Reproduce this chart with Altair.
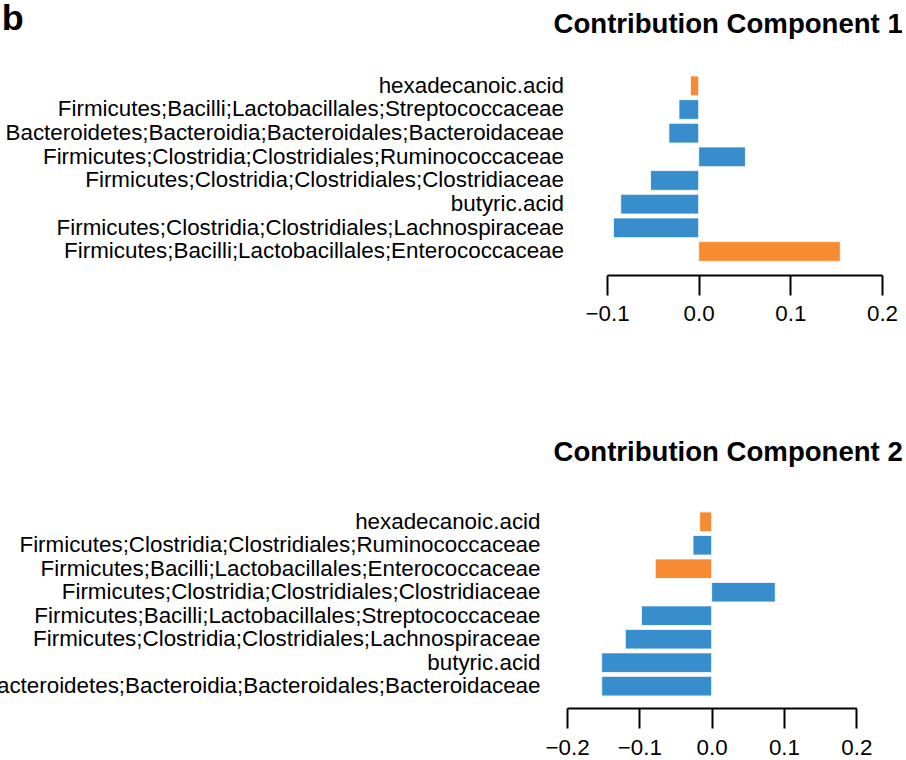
import altair as alt
import pandas as pd

# ---------------- data ----------------
features_c1 = [
    "hexadecanoic.acid",
    "Firmicutes;Bacilli;Lactobacillales;Streptococcaceae",
    "Bacteroidetes;Bacteroidia;Bacteroidales;Bacteroidaceae",
    "Firmicutes;Clostridia;Clostridiales;Ruminococcaceae",
    "Firmicutes;Clostridia;Clostridiales;Clostridiaceae",
    "butyric.acid",
    "Firmicutes;Clostridia;Clostridiales;Lachnospiraceae",
    "Firmicutes;Bacilli;Lactobacillales;Enterococcaceae",
]
values_c1 = [-0.009, -0.0215, -0.0325, 0.051, -0.0525, -0.085, -0.093, 0.1545]
groups_c1 = ["Group 2", "Group 1", "Group 1", "Group 1", "Group 1", "Group 1", "Group 1", "Group 2"]

features_c2 = [
    "hexadecanoic.acid",
    "Firmicutes;Clostridia;Clostridiales;Ruminococcaceae",
    "Firmicutes;Bacilli;Lactobacillales;Enterococcaceae",
    "Firmicutes;Clostridia;Clostridiales;Clostridiaceae",
    "Firmicutes;Bacilli;Lactobacillales;Streptococcaceae",
    "Firmicutes;Clostridia;Clostridiales;Lachnospiraceae",
    "butyric.acid",
    "Bacteroidetes;Bacteroidia;Bacteroidales;Bacteroidaceae",
]
values_c2 = [-0.0166, -0.0258, -0.078, 0.088, -0.097, -0.1194, -0.1521, -0.152]
groups_c2 = ["Group 2", "Group 1", "Group 2", "Group 1", "Group 1", "Group 1", "Group 1", "Group 1"]

ticks_c1 = [-0.1, 0.0, 0.1, 0.2]
ticks_c2 = [-0.2, -0.1, 0.0, 0.1, 0.2]

group_names = ["Group 1", "Group 2"]
group_colors = ["#388ECC", "#F68B33"]

FONT = "Liberation Sans"
LABEL_SIZE = 22.4


def panel(features, values, groups, title, ticks, domain, xrange, width, height,
          ylab_pad, x_offset, tick_size, xlab_pad, title_y, yaxis_title=None):
    df = pd.DataFrame({"feature": features, "value": values, "group": groups})

    y_axis_kwargs = dict(
        domain=False, ticks=False, tickSize=0, labelPadding=ylab_pad,
        labelLimit=2000, labelFontSize=LABEL_SIZE, labelFont=FONT,
        labelColor="black",
    )
    if yaxis_title is not None:
        y_axis_kwargs.update(
            title=yaxis_title, titleAngle=0, titleX=-565.7, titleY=-44.5,
            titleAlign="left", titleBaseline="alphabetic", titleFontSize=36,
            titleFontWeight="bold", titleFont=FONT, titleColor="black",
        )
    else:
        y_axis_kwargs.update(title=None)

    x_axis = alt.Axis(
        values=ticks, format=".1f", grid=False,
        domainColor="black", domainWidth=2, tickColor="black", tickWidth=2,
        tickSize=tick_size, offset=x_offset, labelPadding=xlab_pad,
        labelFontSize=LABEL_SIZE, labelFont=FONT, labelColor="black",
        labelFlush=False, labelOverlap=False,
        title=title, titleX=width, titleY=title_y, titleAngle=0,
        titleAlign="right", titleBaseline="alphabetic", titleFontSize=27.6,
        titleFontWeight="bold", titleFont=FONT, titleColor="black",
    )

    return (
        alt.Chart(df)
        .mark_bar(stroke="white", strokeWidth=0.8)
        .encode(
            x=alt.X("value:Q", scale=alt.Scale(domain=domain, range=xrange, nice=False),
                    axis=x_axis),
            y=alt.Y("feature:N", sort=features,
                    scale=alt.Scale(paddingInner=0.1667, paddingOuter=0.0833),
                    axis=alt.Axis(**y_axis_kwargs)),
            color=alt.Color("group:N", scale=alt.Scale(domain=group_names, range=group_colors),
                            legend=None),
        )
        .properties(width=width, height=height)
    )


W = 335.3
p1 = panel(features_c1, values_c1, groups_c1, "Contribution Component 1", ticks_c1,
           [-0.1, 0.2], [40, 315], W, 189.3,
           ylab_pad=3.5, x_offset=11.7, tick_size=20, xlab_pad=7.5,
           title_y=-243, yaxis_title="b")
p2 = panel(features_c2, values_c2, groups_c2, "Contribution Component 2", ticks_c2,
           [-0.2, 0.2], [0, 289.3], W, 187.9,
           ylab_pad=27, x_offset=10.1, tick_size=20, xlab_pad=8.5,
           title_y=-247.6)

chart = (
    alt.vconcat(p1, p2, spacing=246, bounds="flush")
    .properties(padding={"left": -19, "top": 0, "right": 0, "bottom": 0},
                background="white")
    .configure_view(stroke="transparent", strokeWidth=0)
)

chart.save("out.html", embed_options={"renderer": "svg", "actions": False})
